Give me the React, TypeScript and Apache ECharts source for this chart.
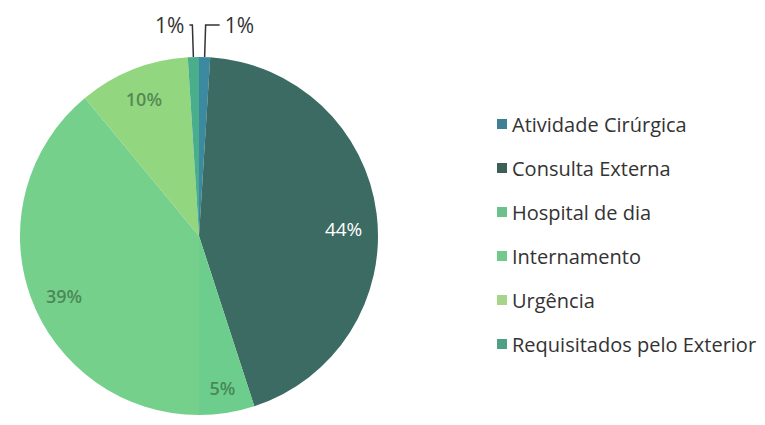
import React, { useEffect, useRef } from "react";
import * as echarts from "echarts";

const categories = [
  "Atividade Cirúrgica",
  "Consulta Externa",
  "Hospital de dia",
  "Internamento",
  "Urgência",
  "Requisitados pelo Exterior",
];
const values = [1, 44, 5, 39, 10, 1];
const sliceColors = ["#3b8aa0", "#3c6b63", "#6ccd8d", "#74d08b", "#92d67f", "#4aae8c"];
const legendColors = ["#3f7f94", "#3d5f58", "#6cc08c", "#72c98a", "#a6d48a", "#4fa084"];
const insideLabelColors = ["#ffffff", "#ffffff", "#3f7048", "#3f7048", "#3f7048", "#ffffff"];
const insideOffsets = [[0, 0], [-4, 12], [0, 4], [6, 9], [0, 2], [0, 0]];

export default function App() {
  const ref = useRef<HTMLDivElement>(null);
  useEffect(() => {
    if (!ref.current) return;
    const chart = echarts.init(ref.current, undefined, { renderer: "svg" });
    // the div sits 8px inside the page (body margin)
    const center = [191, 228];
    const R = 179;
    const mainData = categories.map((name, i) => {
      const small = values[i] <= 1;
      return {
        name,
        value: values[i],
        itemStyle: { color: sliceColors[i] },
        label: small
          ? {
              show: true,
              position: "outside",
              formatter: "{d}%",
              fontSize: 21,
              color: "#333333",
              fontFamily: "Open Sans",
            }
          : { show: false },
        labelLine: small
          ? {
              show: true,
              length: 32,
              length2: i === 0 ? 14 : 3,
              lineStyle: { color: "#333333", width: 1.5 },
            }
          : { show: false },
      };
    });
    const overlayData = categories.map((name, i) => {
      const small = values[i] <= 1;
      const big = values[i] > 40;
      return {
        name,
        value: values[i],
        itemStyle: { color: "rgba(0,0,0,0)" },
        label: small
          ? { show: false }
          : {
              show: true,
              position: "inside",
              formatter: "{d}%",
              fontSize: big ? 19 : 18,
              fontWeight: big ? "normal" : 600,
              color: insideLabelColors[i],
              opacity: big ? 1 : 0.75,
              fontFamily: "Open Sans",
              offset: insideOffsets[i],
            },
        labelLine: { show: false },
      };
    });
    chart.setOption({
      animation: false,
      backgroundColor: "#ffffff",
      legend: {
        orient: "vertical",
        left: 484,
        top: 101,
        data: categories.map((name, i) => ({
          name,
          itemStyle: { color: legendColors[i] },
        })),
        icon: "rect",
        itemWidth: 10,
        itemHeight: 10,
        itemGap: 24,
        textStyle: {
          fontSize: 20,
          lineHeight: 18,
          color: "#333333",
          fontFamily: "Open Sans",
        },
        selectedMode: false,
      },
      series: [
        {
          type: "pie",
          center,
          radius: [0, R],
          startAngle: 90,
          clockwise: true,
          percentPrecision: 0,
          avoidLabelOverlap: false,
          data: mainData,
          itemStyle: { borderWidth: 0 },
          emphasis: { disabled: true },
        },
        {
          type: "pie",
          center,
          radius: [R * 0.64, R],
          startAngle: 90,
          clockwise: true,
          percentPrecision: 0,
          silent: true,
          avoidLabelOverlap: false,
          data: overlayData,
          itemStyle: { borderWidth: 0 },
          emphasis: { disabled: true },
        },
      ],
    });
    return () => chart.dispose();
  }, []);
  return <div ref={ref} style={{ width: 749, height: 409 }} />;
}
